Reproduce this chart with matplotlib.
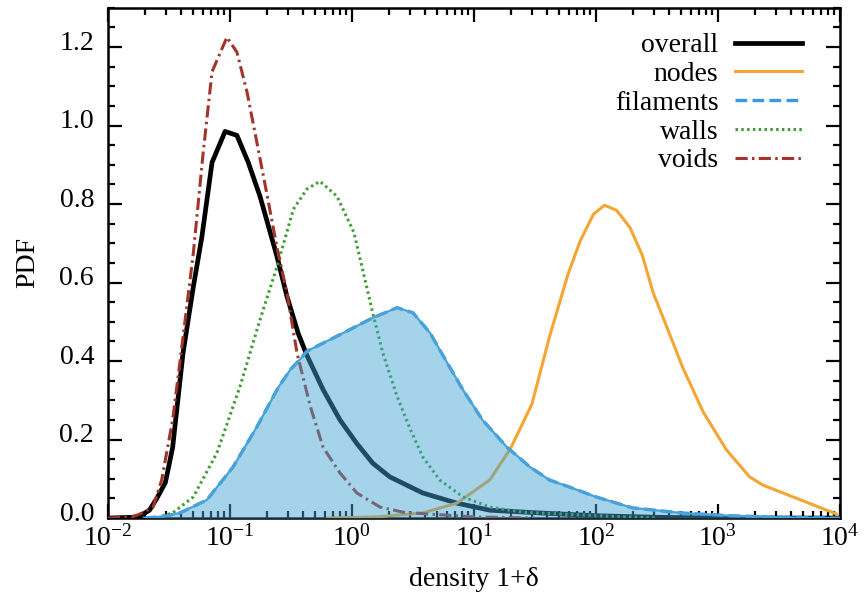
import matplotlib
matplotlib.use("Agg")
import matplotlib.pyplot as plt
import matplotlib.transforms as mtransforms
import numpy as np
from matplotlib.ticker import LogLocator, MultipleLocator, FuncFormatter, NullFormatter

plt.rcParams['font.family'] = ['Liberation Serif', 'DejaVu Serif']
plt.rcParams['mathtext.fontset'] = 'custom'
plt.rcParams['mathtext.rm'] = 'Liberation Serif'
plt.rcParams['font.size'] = 20

# values: log10(1+delta) and PDF
overall_logd = [-2.0, -1.8, -1.74, -1.66, -1.6, -1.53, -1.47, -1.385, -1.3, -1.23, -1.147, -1.04,
                -0.943, -0.85, -0.754, -0.615, -0.533, -0.44, -0.37, -0.236, -0.098, 0.04, 0.17,
                0.31, 0.58, 0.86, 1.13, 1.54, 2.0, 2.5, 3.0, 4.0]
overall_pdf = [0.0, 0.002, 0.005, 0.02, 0.05, 0.09, 0.18, 0.42, 0.59, 0.717, 0.906, 0.985,
               0.975, 0.906, 0.82, 0.667, 0.565, 0.47, 0.415, 0.327, 0.25, 0.19, 0.14,
               0.105, 0.064, 0.038, 0.02, 0.013, 0.006, 0.002, 0.0, 0.0]

nodes_logd = [-0.2, 0.2, 0.58, 0.86, 1.13, 1.3, 1.475, 1.62, 1.77, 1.87, 1.98, 2.07, 2.17,
              2.28, 2.38, 2.47, 2.58, 2.71, 2.88, 3.07, 3.26, 3.37, 3.975]
nodes_pdf = [0.0, 0.003, 0.013, 0.038, 0.097, 0.177, 0.29, 0.462, 0.62, 0.705, 0.774, 0.797, 0.784,
             0.74, 0.67, 0.574, 0.488, 0.385, 0.27, 0.174, 0.105, 0.084, 0.01]

fil_logd = [-1.7, -1.55, -1.41, -1.19, -0.975, -0.78, -0.6, -0.5, -0.426, -0.37, -0.1, 0.17,
            0.37, 0.5, 0.64, 0.78, 0.91, 1.07, 1.27, 1.46, 1.62, 1.81, 2.0, 2.3, 2.7, 3.1, 3.5, 4.0]
fil_pdf = [0.0, 0.004, 0.013, 0.046, 0.13, 0.232, 0.335, 0.38, 0.404, 0.425, 0.467, 0.51,
           0.536, 0.523, 0.472, 0.396, 0.327, 0.25, 0.181, 0.13, 0.097, 0.076, 0.054, 0.026,
           0.013, 0.006, 0.002, 0.0]

walls_logd = [-1.6, -1.47, -1.3, -1.107, -0.918, -0.754, -0.615, -0.48, -0.37, -0.262, -0.123,
              0.016, 0.09, 0.17, 0.254, 0.37, 0.48, 0.58, 0.72, 0.91, 1.13, 1.4, 1.6, 2.0, 2.5]
walls_pdf = [0.0, 0.013, 0.054, 0.166, 0.335, 0.505, 0.64, 0.787, 0.838, 0.858, 0.82,
             0.728, 0.63, 0.523, 0.42, 0.31, 0.225, 0.156, 0.097, 0.054, 0.028, 0.015, 0.012, 0.006, 0.0]

voids_logd = [-2.0, -1.8, -1.74, -1.63, -1.56, -1.47, -1.385, -1.3, -1.22, -1.147, -1.025, -0.943,
              -0.86, -0.78, -0.7, -0.615, -0.533, -0.45, -0.34, -0.236, -0.098, 0.04, 0.23, 0.42,
              0.64, 1.0, 1.5]
voids_pdf = [0.0, 0.003, 0.01, 0.028, 0.097, 0.25, 0.46, 0.676, 0.93, 1.137, 1.225, 1.187,
             1.085, 0.958, 0.83, 0.69, 0.574, 0.42, 0.283, 0.18, 0.115, 0.064, 0.028, 0.015,
             0.01, 0.003, 0.0]

xtick_exp = [-2, -1, 0, 1, 2, 3, 4]

fig = plt.figure(figsize=(8.64, 6.01), dpi=100)
ax = fig.add_axes([0.125, 0.138, 0.847, 0.849])

ax.plot(10 ** np.array(overall_logd), overall_pdf, color='black', lw=3.4, label='overall', zorder=3)
ax.plot(10 ** np.array(nodes_logd), nodes_pdf, color='#f5a533', lw=2.2, label='nodes', zorder=3)
ax.plot(10 ** np.array(fil_logd), fil_pdf, color='#3b97e8', lw=2.4, ls=(0, (3.5, 1.6)),
        label='filaments', zorder=3)
ax.plot(10 ** np.array(walls_logd), walls_pdf, color='#3f9b35', lw=2.2, ls=(0, (0.8, 1.1)),
        label='walls', zorder=3)
ax.plot(10 ** np.array(voids_logd), voids_pdf, color='#a2342c', lw=2.2, ls=(0, (4, 1.4, 0.8, 1.4)),
        label='voids', zorder=3)

# shaded filaments PDF drawn over the other curves
ax.fill_between(10 ** np.array(fil_logd), 0, fil_pdf, color='#40a4d3', alpha=0.47, lw=0, zorder=4)
ax.plot(10 ** np.array(fil_logd), fil_pdf, color='#4aa3d6', lw=1.6, zorder=5)

ax.set_xscale('log')
ax.set_xlim(1e-2, 1e4)
ax.set_ylim(0, 1.3)

ax.xaxis.set_major_locator(LogLocator(base=10, numticks=20))
ax.xaxis.set_minor_locator(LogLocator(base=10, subs=np.arange(2, 10), numticks=20))
ax.xaxis.set_minor_formatter(NullFormatter())
ax.xaxis.set_major_formatter(FuncFormatter(lambda v, p: r'$\mathregular{10^{%d}}$' % int(round(np.log10(v)))))
ax.set_xticks([10.0 ** e for e in xtick_exp])
ax.yaxis.set_major_locator(MultipleLocator(0.2))
ax.yaxis.set_minor_locator(MultipleLocator(0.05))
ax.yaxis.set_major_formatter(FuncFormatter(lambda v, p: '%.1f' % v))

ax.tick_params(which='both', direction='in', top=True, right=True, width=1.6, labelsize=20)
ax.tick_params(which='major', length=10)
ax.tick_params(which='minor', length=5)
ax.tick_params(axis='x', pad=5)
ax.tick_params(axis='y', pad=10)
for s in ax.spines.values():
    s.set_linewidth(1.8)

# y labels sit a little above their ticks, as in the original
shift = mtransforms.ScaledTranslation(0, 5 / 72, fig.dpi_scale_trans)
for lab in ax.get_yticklabels():
    lab.set_transform(lab.get_transform() + shift)

ax.set_xlabel(r'density 1+δ', fontsize=20, labelpad=11)
ax.set_ylabel('PDF', fontsize=20, labelpad=14)

ax.legend(loc='upper right', bbox_to_anchor=(0.967, 0.978), frameon=False, markerfirst=False,
          handlelength=2.4, handletextpad=0.6, labelspacing=0.12, borderpad=0, fontsize=20)

fig.savefig('out.png', dpi=100)
